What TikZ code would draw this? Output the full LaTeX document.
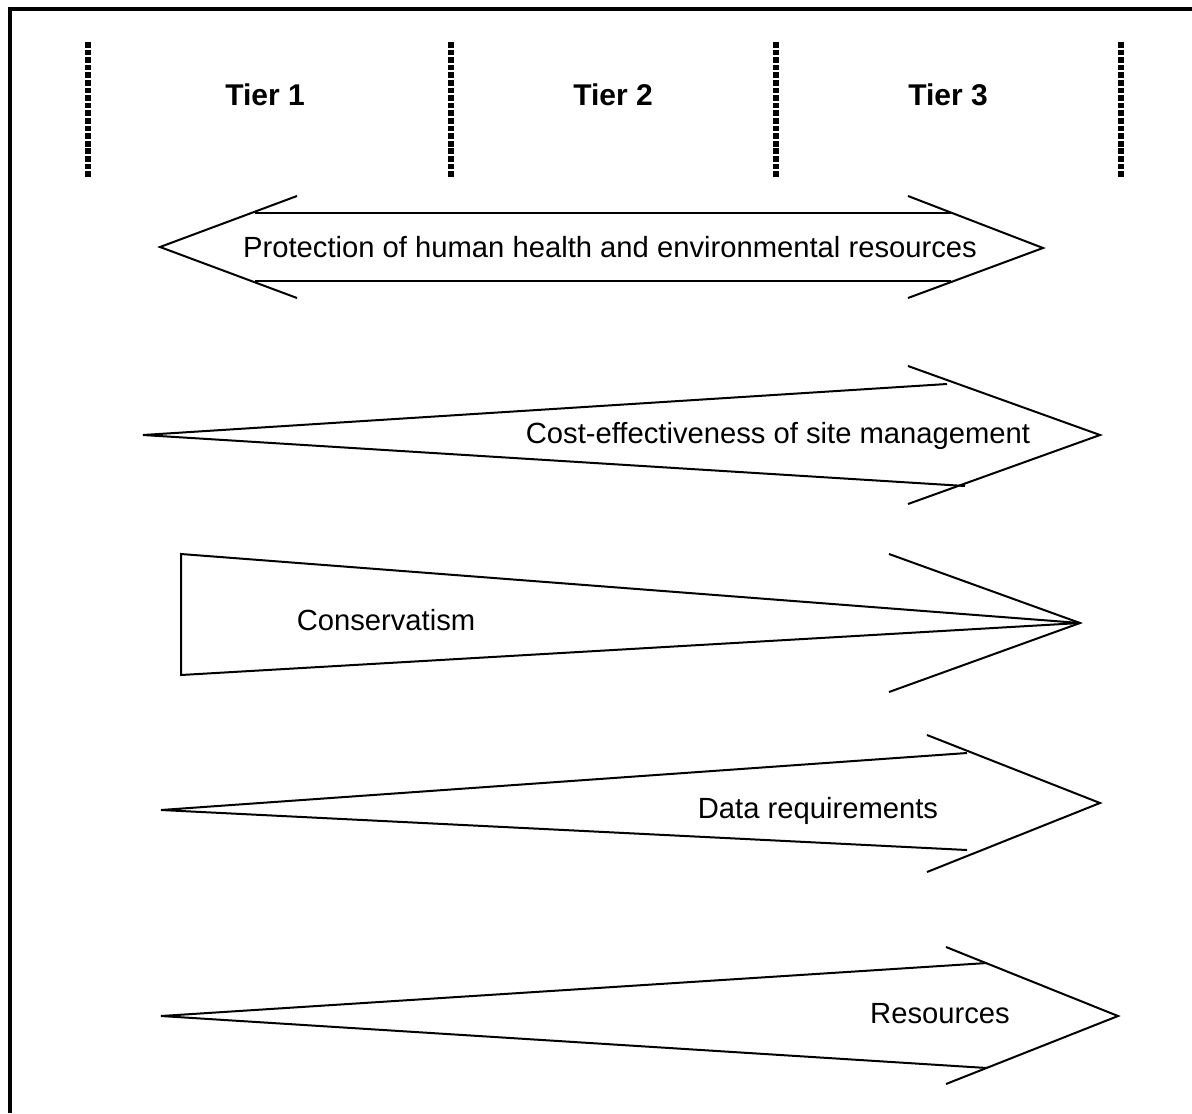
\documentclass[tikz,border=0pt]{standalone}
\usepackage{fontspec}
\setmainfont{Liberation Sans}
\tikzset{
    tierline/.style={line width=3pt, dash pattern=on 2.85pt off 0.95pt},
    band/.style={line width=1pt, line join=miter},
    label/.style={anchor=base, inner sep=0pt, font=\fontsize{14.6}{17}\selectfont},
    tierlabel/.style={anchor=base, inner sep=0pt, font=\fontsize{15}{18}\selectfont\bfseries}
}
\begin{document}
\begin{tikzpicture}[x=0.5pt, y=-0.5pt]
\useasboundingbox (0,0) rectangle (1192,1113);
\begin{scope}

    % frame
    \draw[line width=2pt] (9.5,1113) -- (9.5,9) -- (1192,9);

    % tiers
    \draw[tierline] (88,42) -- (88,178);
    \draw[tierline] (451,42) -- (451,178);
    \draw[tierline] (776,42) -- (776,178);
    \draw[tierline] (1121,42) -- (1121,178);
    \node (t1) at (265,105) [tierlabel] {Tier 1};
    \node (t2) at (613,105) [tierlabel] {Tier 2};
    \node (t3) at (948,105) [tierlabel] {Tier 3};

    % protection
    \draw[band] (297,196) -- (160,247) -- (297,298);
    \draw[band] (908,196) -- (1043,248) -- (908,298);
    \draw[band] (255,213) -- (951,213);
    \draw[band] (255,281) -- (951,281);
    \node (prot) at (610,257) [label] {Protection of human health and environmental resources};

    % cost
    \draw[band] (947,384) -- (143,435) -- (965,486);
    \draw[band] (908,366) -- (1100,435) -- (908,504);
    \node (cost) at (778,443) [label] {Cost-effectiveness of site management};

    % conservatism
    \draw[band] (1080,623) -- (181,554) -- (181,675) -- cycle;
    \draw[band] (889,554) -- (1080,623) -- (889,692);
    \node (cons) at (386,630) [label] {Conservatism};

    % data
    \draw[band] (967,753) -- (161,810) -- (967,850);
    \draw[band] (927,735) -- (1100,803) -- (927,872);
    \node (data) at (818,818) [label] {Data requirements};

    % resources
    \draw[band] (987,963) -- (161,1016) -- (987,1068);
    \draw[band] (946,947) -- (1118,1016) -- (946,1084);
    \node (res) at (940,1023) [label] {Resources};

\end{scope}
\end{tikzpicture}
\end{document}
